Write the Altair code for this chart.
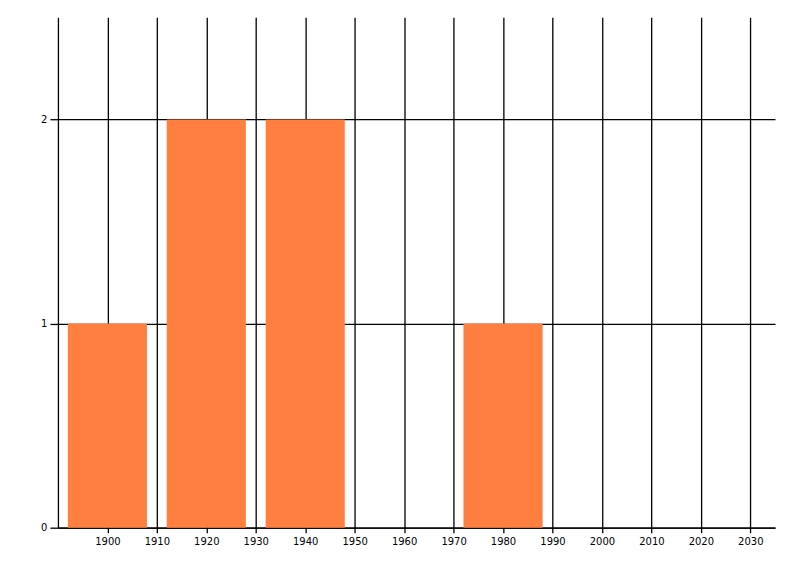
import pandas as pd
import altair as alt

# Bar data: decade centres and counts
decades = [1900, 1920, 1940, 1980]
counts = [1, 2, 2, 1]
bar_span = 16  # years covered by each bar

x_ticks = [1900, 1910, 1920, 1930, 1940, 1950, 1960, 1970, 1980, 1990, 2000, 2010, 2020, 2030]
y_ticks = [0, 1, 2]

df = pd.DataFrame({"decade": decades, "count": counts})
df["start"] = df["decade"] - bar_span / 2
df["end"] = df["decade"] + bar_span / 2

chart = alt.Chart(df).mark_bar(color="#FF7F40").encode(
    x=alt.X("start:Q", title=None,
            scale=alt.Scale(domain=[1890, 2035], nice=False, zero=False),
            axis=alt.Axis(values=x_ticks, format="d", grid=True, tickSize=5, labelPadding=4)),
    x2="end:Q",
    y=alt.Y("count:Q", title=None,
            scale=alt.Scale(domain=[0, 2.5], nice=False),
            axis=alt.Axis(values=y_ticks, grid=True, tickSize=8, labelPadding=3)),
    y2=alt.datum(0),
).properties(
    width=718, height=511,
    autosize=alt.AutoSizeParams(type="none"),
    padding={"left": 50, "top": 9, "right": 17, "bottom": 40},
).configure_axis(
    domainColor="black", tickColor="black", gridColor="black", gridOpacity=1,
    domainWidth=1.3, tickWidth=1.3, gridWidth=1.3,
    labelFont="DejaVu Sans", labelFontSize=10, labelColor="black",
).configure_view(stroke=None)

chart.save("out.html", embed_options={"renderer": "svg", "actions": False})
